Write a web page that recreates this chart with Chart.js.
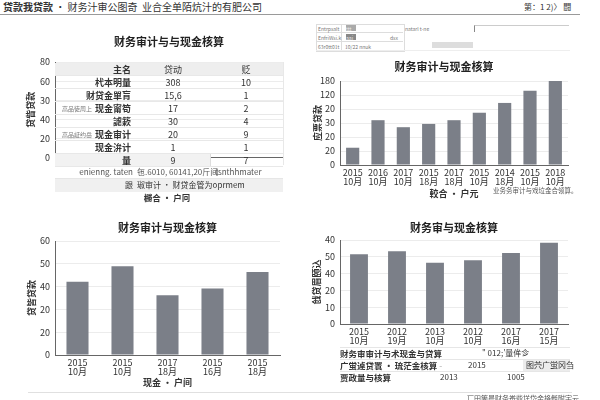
<!DOCTYPE html>
<html lang="zh">
<head>
<meta charset="UTF-8">
<title>财务审计与现金核算</title>
<script src="https://cdn.jsdelivr.net/npm/chart.js"></script>
<style>
  body { margin: 0; width: 600px; height: 400px; position: relative; overflow: hidden; background: #fff;
         font-family: "Noto Sans CJK SC", "Noto Sans", sans-serif; color: #333; }
  .abs { position: absolute; white-space: nowrap; }
  canvas { position: absolute; }
  .cell { position: absolute; font-size: 9px; line-height: 13px; height: 13px; }
  .tiny { font-size: 5px; color: #777; }
</style>
</head>
<body>

<!-- 页眉 -->
<div class="abs" style="left:3px;top:0;font-size:10px;line-height:14px;color:#333;"><b style="font-weight:600">贷款我贷款</b> · 财务汁审公图奇&nbsp;&nbsp;业合全单陌炕汁的有肥公司</div>
<div class="abs" style="left:524px;top:2px;font-size:8px;line-height:10px;">第：1 2)〉 闘</div>
<div class="abs" style="left:0;top:14px;width:580px;border-top:1px solid #9a9a9a;"></div>

<!-- 右上角的小表单 -->
<div class="abs" style="left:316px;top:24px;width:87px;height:26px;border:1px solid #ddd;"></div>
<div class="abs" style="left:316px;top:32px;width:87px;border-top:1px solid #ddd;"></div>
<div class="abs" style="left:316px;top:41px;width:87px;border-top:1px solid #ddd;"></div>
<div class="abs" style="left:341px;top:24px;height:26px;border-left:1px solid #ddd;"></div>
<div class="abs tiny" style="left:318px;top:25px;">Entrpsalt</div>
<div class="abs tiny" style="left:346px;top:25px;width:10px;height:6px;background:#aaa;color:#eee;">ttt</div>
<div class="abs tiny" style="left:318px;top:34px;">EnfriWsi.k</div>
<div class="abs tiny" style="left:346px;top:34px;width:10px;height:6px;background:#888;color:#eee;">aai</div>
<div class="abs tiny" style="left:390px;top:34px;">dsx</div>
<div class="abs tiny" style="left:318px;top:43px;">63r0tt01t</div>
<div class="abs tiny" style="left:345px;top:43px;">10/22 nnuk</div>
<div class="abs tiny" style="left:405px;top:25px;">natarl t-ne</div>
<div class="abs" style="left:474px;top:25px;width:94px;height:6px;border-top:1px solid #ccc;border-left:1px solid #888;"></div>
<div class="abs" style="left:432px;top:42px;width:41px;height:6px;background:#ddd;"></div>
<div class="abs" style="left:316px;top:50px;width:254px;border-top:1px solid #eee;"></div>

<canvas id="tl" width="290" height="138" style="left:0;top:30px;"></canvas>
<canvas id="tr" width="278" height="145" style="left:300px;top:55px;"></canvas>
<canvas id="bl" width="290" height="175" style="left:0;top:215px;"></canvas>
<canvas id="br" width="278" height="134" style="left:300px;top:215px;"></canvas>

<!-- 左上表格 -->
<div id="tlTable"></div>
<div class="abs" style="left:0;top:166px;width:133px;text-align:right;font-size:8px;line-height:12px;color:#555;">enienng. taten</div>
<div class="abs" style="left:137px;top:166px;font-size:8px;line-height:12px;color:#555;">㐌.6010, 60141,20斤间</div>
<div class="abs" style="left:215px;top:166px;font-size:8px;line-height:12px;color:#555;">tsnthhmater</div>
<div class="abs" style="left:55px;top:178px;width:228px;height:13px;background:#f0f0f0;border-top:1px solid #e6e6e6;"></div>
<div class="abs" style="left:0;top:179px;width:133px;text-align:right;font-size:8px;line-height:12px;color:#333;">跟</div>
<div class="abs" style="left:137px;top:179px;font-size:8px;line-height:12px;color:#333;">琡审计 · 财贷金管为oprmem</div>
<div class="abs" style="left:0;top:191px;width:334px;text-align:center;font-size:8.5px;line-height:12px;font-weight:bold;color:#333;">橳合 · 户冋</div>

<!-- 右上脚注 -->
<div class="abs" style="left:493px;top:186px;font-size:6.5px;line-height:9px;color:#555;">业务务审计与戏垃金合领算。</div>

<!-- 右下表格 -->
<div class="abs" style="left:340px;top:347px;width:230px;height:36px;border-top:1px solid #e6e6e6;"></div>
<div class="abs" style="left:340px;top:359px;width:230px;border-top:1px solid #e6e6e6;"></div>
<div class="abs" style="left:340px;top:371px;width:230px;border-top:1px solid #e6e6e6;"></div>
<div class="abs" style="left:523px;top:360px;width:47px;height:11px;background:#ececec;"></div>
<div class="abs" style="left:340px;top:347px;font-size:8.5px;line-height:12px;font-weight:600;">财务审审计与术现金与贷算</div>
<div class="abs" style="left:482px;top:347px;font-size:8px;line-height:12px;">" 012;'量侔㐱</div>
<div class="abs" style="left:340px;top:359px;font-size:8.5px;line-height:12px;font-weight:600;">广蛍逴贷瞏 · 琉茫金核算 <span style="color:#aaa;font-weight:normal">-</span></div>
<div class="abs" style="left:468px;top:359px;font-size:8px;line-height:12px;">2015</div>
<div class="abs" style="left:526px;top:359px;font-size:8px;line-height:12px;">图茓广蛍冈刍</div>
<div class="abs" style="left:340px;top:371px;font-size:8.5px;line-height:12px;font-weight:600;">贾政量与核算</div>
<div class="abs" style="left:440px;top:371px;font-size:8px;line-height:12px;">2013</div>
<div class="abs" style="left:507px;top:371px;font-size:8px;line-height:12px;">1005</div>

<div class="abs" style="left:28px;top:392px;width:544px;border-top:1px solid #e0e0e0;"></div>
<div class="abs" style="left:467px;top:394px;font-size:7px;line-height:9px;color:#555;">匸田箇晨财务畨啙垟岱金挌毿附宇云</div>

<script>
// 左上：表格 + 坐标轴
const tlTicks = ['0', '20', '40', '30', '60', '80'];
const tlHead = ['主名', '贷动', '贬'];
const tlRows = [
  ['杙本明量', '308', '10'],
  ['财贷金單肓', '15,6', '1'],
  ['现金甯笱', '17', '2'],
  ['謔簌', '30', '4'],
  ['现金审计', '20', '9'],
  ['现金㳎计', '1', '1'],
  ['量', '9', '7']
];
const tlSide = { 3: '高品徒周上', 5: '高品証约岳' };

// 右上
const trLabels = [['2015', '10月'], ['2016', '10月'], ['2017', '10月'], ['2015', '18月'], ['2017', '18月'],
                  ['2015', '10月'], ['2014', '18月'], ['2015', '10月'], ['2018', '10月']];
const trValues = [37, 96, 81, 88, 96, 112, 133, 159, 180];
const trTicks = ['0', '20', '20', '30', '20', '120', '180'];

// 左下
const blLabels = [['2015', '10月'], ['2015', '10月'], ['2017', '18月'], ['2015', '16月'], ['2015', '18月']];
const blValues = [38.5, 46.7, 31.5, 35, 43.7];
const blTicks = ['0', '20', '20', '40', '50', '60'];

// 右下
const brLabels = [['2015', '10月'], ['2012', '19月'], ['2013', '10月'], ['2012', '10月'], ['2017', '16月'], ['2017', '15月']];
const brValues = [41.5, 43.3, 36.4, 37.9, 42.3, 48.4];
const brTicks = ['0', '10', '20', '40', '50', '40'];

const FONT = '"Noto Sans CJK SC", "Noto Sans", sans-serif';
const BAR = '#7b7f88';

// 表格
(function () {
  const box = document.getElementById('tlTable');
  let html = '';
  const rows = [tlHead].concat(tlRows);
  rows.forEach(function (r, i) {
    const top = 62.5 + i * 13;
    let bg = 'transparent';
    if (i === 0) bg = '#eeeeee';
    html += '<div class="abs" style="left:55px;top:' + top + 'px;width:228px;height:13px;background:' + bg +
            ';border-bottom:1px solid #e8e8e8;box-sizing:border-box;"></div>';
    if (i === rows.length - 1) {
      html += '<div class="abs" style="left:55px;top:' + top + 'px;width:155px;height:12px;background:#f2f2f2;border-right:1px solid #ddd;"></div>';
    }
    const fw = 'font-weight:600;';
    html += '<div class="cell" style="left:55px;top:' + top + 'px;width:76px;text-align:right;' + fw + '">' + r[0] + '</div>';
    html += '<div class="cell" style="left:140px;top:' + top + 'px;width:66px;text-align:center;">' + r[1] + '</div>';
    html += '<div class="cell" style="left:212px;top:' + top + 'px;width:68px;text-align:center;">' + r[2] + '</div>';
    if (tlSide[i]) {
      html += '<div class="cell" style="left:62px;top:' + top + 'px;font-size:6px;color:#777;">' + tlSide[i] + '</div>';
    }
  });
  html += '<div class="abs" style="left:283px;top:62px;height:103px;border-left:1px solid #e8e8e8;"></div>';
  box.innerHTML = html;
})();

// g: 画布位置与绘图区位置；fs=true 时标题按整张画布居中
function makeChart(id, g, labels, values, ticks, step, texts) {
  const pl = g.fs ? 2 * g.titleX - g.L - g.right : 0;
  const pr = g.L + g.W - g.right;
  const tLh = 11 * 1.2;
  const aLh = 9 * 1.2;
  const datasets = values ? [{ data: values, backgroundColor: BAR, barPercentage: g.bar, categoryPercentage: 1 }] : [];
  return new Chart(document.getElementById(id), {
    type: 'bar',
    data: { labels: labels, datasets: datasets },
    options: {
      responsive: false,
      animation: false,
      layout: { padding: { left: pl, right: pr, top: 0, bottom: 0 } },
      plugins: {
        legend: { display: false },
        tooltip: { enabled: false },
        title: {
          display: true, text: texts.title, color: '#222', fullSize: !!g.fs,
          font: { family: FONT, size: 11, weight: 'bold' },
          padding: { top: g.titleY - g.T - tLh / 2, bottom: g.top - g.titleY - tLh / 2 }
        }
      },
      scales: {
        x: {
          grid: { display: false, drawTicks: false },
          border: { color: '#666' },
          ticks: { display: !!labels.length, padding: 3.5, color: '#333', maxRotation: 0, autoSkip: false,
                   font: { family: FONT, size: 9, lineHeight: 1 } },
          title: { display: !!texts.x, text: texts.x, color: '#333',
                   font: { family: FONT, size: 9, weight: 'bold' },
                   padding: { top: 0, bottom: g.xTitleY ? g.T + g.H - g.xTitleY - aLh / 2 : 0 } },
          afterFit: function (s) { s.height = g.T + g.H - g.bottom; }
        },
        y: {
          min: 0, max: step * (ticks.length - 1),
          grid: { color: '#ececec', drawTicks: false },
          border: { color: '#666' },
          ticks: { stepSize: step, padding: 5, color: '#333', font: { family: FONT, size: 9 },
                   callback: function (v) { return ticks[Math.round(v / step)]; } },
          title: { display: true, text: texts.y, color: '#333',
                   font: { family: FONT, size: 9, weight: 'bold' },
                   padding: { top: g.yTitleX - g.L - pl - aLh / 2, bottom: 0 } },
          afterFit: function (s) { s.width = g.left - g.L - pl; }
        }
      }
    }
  });
}

makeChart('tl', { L: 0, T: 30, W: 290, H: 138, titleX: 167, titleY: 42, left: 55, right: 283, top: 62, bottom: 165, yTitleX: 31 },
  [], null, tlTicks, 1, { title: '财务审计与与现金核算', y: '贷眥贷款' });

makeChart('tr', { L: 300, T: 55, W: 278, H: 145, titleX: 444, titleY: 67, left: 340, right: 568, top: 81, bottom: 165,
                  yTitleX: 318, xTitleY: 194, bar: 0.52, fs: true },
  trLabels, trValues, trTicks, 30, { title: '财务审计与现金核算', y: '应票贷款', x: '較合 · 户元' });

makeChart('bl', { L: 0, T: 215, W: 290, H: 175, titleX: 165, titleY: 228, left: 55, right: 280, top: 241, bottom: 355,
                  yTitleX: 32, xTitleY: 383, bar: 0.49 },
  blLabels, blValues, blTicks, 12, { title: '财务审计与现金核算', y: '贷皆贷款', x: '现金 · 户间' });

makeChart('br', { L: 300, T: 215, W: 278, H: 134, titleX: 450, titleY: 228, left: 340, right: 568, top: 240, bottom: 324,
                  yTitleX: 317, bar: 0.47 },
  brLabels, brValues, brTicks, 10, { title: '财务审与现金核算', y: '戗贷眉颐込' });
</script>
</body>
</html>
